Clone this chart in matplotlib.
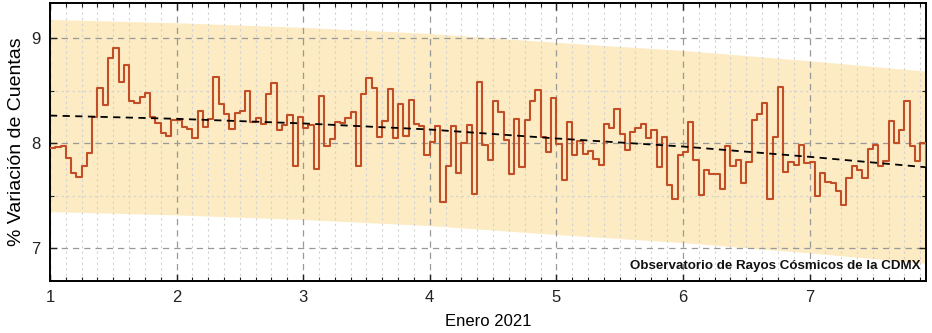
"""Hourly cosmic-ray count variation for the first week of January 2021."""

import matplotlib

matplotlib.use("Agg")
import matplotlib.pyplot as plt
import numpy as np
from matplotlib.ticker import MultipleLocator

# Hourly values (percent variation), starting 1 Jan 2021 00:00.
HOURLY_VARIATION = [
    7.95, 7.96, 7.97, 7.855, 7.72, 7.68, 7.78, 7.91, 8.25, 8.53,
    8.365, 8.815, 8.91, 8.58, 8.745, 8.405, 8.385, 8.44, 8.475, 8.25,
    8.195, 8.095, 8.07, 8.22, 8.22, 8.15, 8.135, 8.05, 8.31, 8.155,
    8.23, 8.63, 8.37, 8.28, 8.135, 8.29, 8.31, 8.495, 8.205, 8.24,
    8.18, 8.47, 8.575, 8.13, 8.17, 8.265, 7.785, 8.245, 8.145, 8.175,
    7.75, 8.45, 7.97, 8.04, 8.205, 8.19, 8.235, 8.295, 7.78, 8.467,
    8.617, 8.53, 8.057, 8.215, 8.52, 8.047, 8.37, 8.073, 8.41, 8.185,
    8.166, 7.89, 8.013, 8.16, 7.435, 7.778, 8.162, 7.72, 8.0, 8.171,
    7.52, 8.584, 7.978, 7.843, 8.405, 8.295, 8.03, 7.703, 8.23, 7.775,
    8.225, 8.40, 8.508, 8.058, 7.916, 8.43, 7.99, 7.65, 8.20, 7.892,
    8.019, 7.895, 7.93, 7.851, 7.79, 8.184, 8.143, 8.324, 8.089, 7.933,
    8.107, 8.14, 8.18, 8.045, 8.124, 7.775, 8.06, 7.60, 7.473, 7.89,
    7.914, 8.20, 7.838, 7.505, 7.743, 7.711, 7.711, 7.559, 7.971, 7.781,
    7.838, 7.617, 7.816, 8.222, 8.276, 8.381, 7.473, 8.063, 8.533, 7.727,
    7.825, 7.794, 7.987, 7.814, 7.82, 7.495, 7.72, 7.634, 7.62, 7.54,
    7.413, 7.667, 7.778, 7.746, 7.67, 7.945, 7.984, 7.778, 7.826, 8.207,
    7.999, 8.127, 8.397, 7.971, 7.826, 7.999, 7.78,
]
START_DAY = 1

# Long-term trend and its uncertainty band, sampled once per day.
TREND_DAYS = [1, 2, 3, 4, 5, 6, 7, 7 + 22 / 24]
TREND = [8.263, 8.232, 8.188, 8.13, 8.045, 7.968, 7.870, 7.771]
BAND_UPPER = [9.178, 9.147, 9.103, 9.045, 8.960, 8.883, 8.785, 8.686]
BAND_LOWER = [7.348, 7.317, 7.273, 7.215, 7.130, 7.053, 6.955, 6.856]

plt.rcParams.update(
    {
        "font.family": ["Liberation Sans", "DejaVu Sans"],
        "font.size": 12,
        "axes.linewidth": 1.4,
    }
)

LINE_COLOR = "#C24E28"
BAND_COLOR = "#FCEBC3"

values = np.array(HOURLY_VARIATION)
days = START_DAY + np.arange(len(values)) / 24

fig = plt.figure(figsize=(9.32, 3.33), dpi=100)
ax = fig.add_axes([0.0536, 0.157, 0.9395, 0.834])

ax.fill_between(TREND_DAYS, BAND_LOWER, BAND_UPPER, color=BAND_COLOR, linewidth=0, zorder=1)
ax.step(days, values, where="post", color=LINE_COLOR, linewidth=1.5, zorder=3)
ax.plot(TREND_DAYS, TREND, color="black", linestyle=(0, (4, 3)), linewidth=1.3, zorder=4)

ax.set_xlim(days[0], days[-1])
ax.set_ylim(6.69, 9.335)
ax.xaxis.set_major_locator(MultipleLocator(1))
ax.xaxis.set_minor_locator(MultipleLocator(1 / 8))
ax.yaxis.set_major_locator(MultipleLocator(1))
ax.yaxis.set_minor_locator(MultipleLocator(0.5))

ax.set_axisbelow("line")
ax.grid(which="major", color="#999999", linestyle=(0, (5, 4)), linewidth=0.9)
ax.grid(which="minor", color="#D2D2D2", linestyle=(0, (2, 3)), linewidth=0.8)
ax.tick_params(which="both", direction="in", top=True, right=True, color="#222222")
ax.tick_params(which="major", length=5, width=1.0, labelsize=12, colors="#222222", pad=7)
ax.tick_params(which="minor", length=3, width=0.8)

ax.set_xlabel("Enero 2021", fontsize=12, labelpad=6)
ax.set_ylabel("% Variación de Cuentas", fontsize=14, labelpad=4)

ax.text(
    0.994,
    0.03,
    "Observatorio de Rayos Cósmicos de la CDMX",
    transform=ax.transAxes,
    ha="right",
    va="bottom",
    fontsize=9.6,
    fontweight="bold",
    color="#111111",
    zorder=5,
)

fig.savefig("out.png", dpi=100)
